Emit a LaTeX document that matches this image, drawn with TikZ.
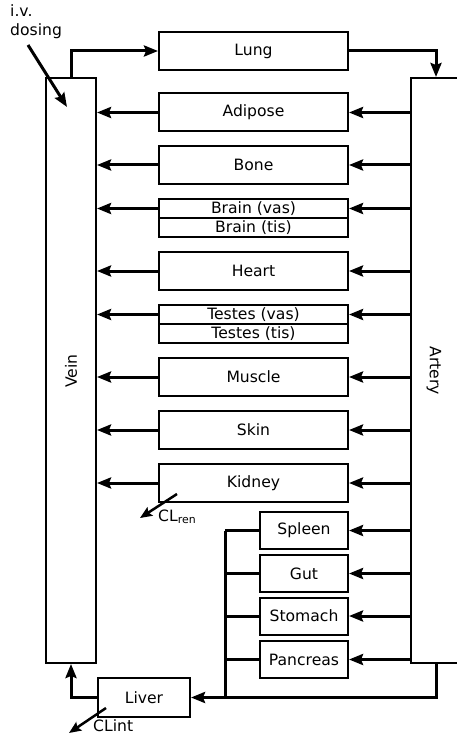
\documentclass[tikz,border=0pt]{standalone}
\usepackage{fontspec}
\setmainfont{DejaVu Sans}
\usetikzlibrary{arrows.meta}
\begin{document}
\begin{tikzpicture}[x=1pt,y=-1pt,
  box/.style={draw,line width=2pt,inner sep=0pt,fill=white},
  organ/.style={box,minimum width=189pt,minimum height=38pt},
  half/.style={box,minimum width=189pt,minimum height=19pt},
  small/.style={box,minimum width=88pt,minimum height=37pt},
  txt/.style={font=\fontsize{15.6}{19}\selectfont},
  arr/.style={line width=3pt,-{Stealth[length=14pt,width=11pt,inset=2pt]}},
  ln/.style={line width=3pt}]
\clip (0,0) rectangle (457,735);
\fill[white] (0,0) rectangle (457,735);
% compartments
\node[box,minimum width=50pt,minimum height=585pt] (vein) at (71,370.5) {};
\node[box,minimum width=50pt,minimum height=585pt] (artery) at (436,370.5) {};
\node[txt,rotate=90] (veinlabel) at (71,371) {Vein};
\node[txt,rotate=-90] (arterylabel) at (434,371) {Artery};
\node[organ,txt] (lung) at (253.5,51) {Lung};
\node[organ,txt] (adipose) at (253.5,112.5) {Adipose};
\node[organ,txt] (bone) at (253.5,165) {Bone};
\node[half,txt] (brainvas) at (253.5,208.5) {Brain (vas)};
\node[half,txt] (braintis) at (253.5,227.5) {Brain (tis)};
\node[organ,txt] (heart) at (253.5,271) {Heart};
\node[half,txt] (testesvas) at (253.5,314.5) {Testes (vas)};
\node[half,txt] (testestis) at (253.5,333.5) {Testes (tis)};
\node[organ,txt] (muscle) at (253.5,377) {Muscle};
\node[organ,txt] (skin) at (253.5,430) {Skin};
\node[organ,txt] (kidney) at (253.5,483) {Kidney};
\node[small,txt] (spleen) at (304,530.5) {Spleen};
\node[small,txt] (gut) at (304,573.5) {Gut};
\node[small,txt] (stomach) at (304,616) {Stomach};
\node[small,txt] (pancreas) at (304,659.5) {Pancreas};
\node[box,txt,minimum width=92pt,minimum height=39pt] (liver) at (144,697.5) {Liver};
% labels
\node[txt,anchor=north west,align=left,inner sep=0pt] (iv) at (10,4) {i.v.\\dosing};
\node[txt,anchor=base west,inner sep=0pt] (clren) at (158,521) {CL\textsubscript{ren}};
\node[txt,anchor=base west,inner sep=0pt] (clint) at (93,731.5) {CLint};
\coordinate (iv0) at (28,45);
\coordinate (iv1) at (67,107);
\coordinate (cr0) at (177,494);
\coordinate (cr1) at (140,518);
\coordinate (ci0) at (106,708);
\coordinate (ci1) at (69,733);
\coordinate (collect) at (225,697.5);
% connectors
\draw[arr] (vein.north) |- (lung.west);
\draw[arr] (lung.east) -| (artery.north);
\foreach \o in {adipose,bone,brainvas,heart,testesvas,muscle,skin,kidney}{
  \draw[arr] (artery.west |- \o.east) -- (\o.east);
  \draw[arr] (\o.west) -- (vein.east |- \o.west);
}
\foreach \o in {spleen,gut,stomach,pancreas}{
  \draw[arr] (artery.west |- \o.east) -- (\o.east);
  \draw[ln] (\o.west) -- (\o.west -| collect);
}
\draw[ln] (spleen.west -| collect) -- (collect);
\draw[arr] (artery.south) |- (liver.east);
\draw[arr] (liver.west) -| (vein.south);
\draw[arr] (iv0) -- (iv1);
\draw[line width=2.5pt,-{Stealth[length=12pt,width=10pt,inset=2pt]}] (cr0) -- (cr1);
\draw[line width=2.5pt,-{Stealth[length=12pt,width=10pt,inset=2pt]}] (ci0) -- (ci1);
\end{tikzpicture}
\end{document}
